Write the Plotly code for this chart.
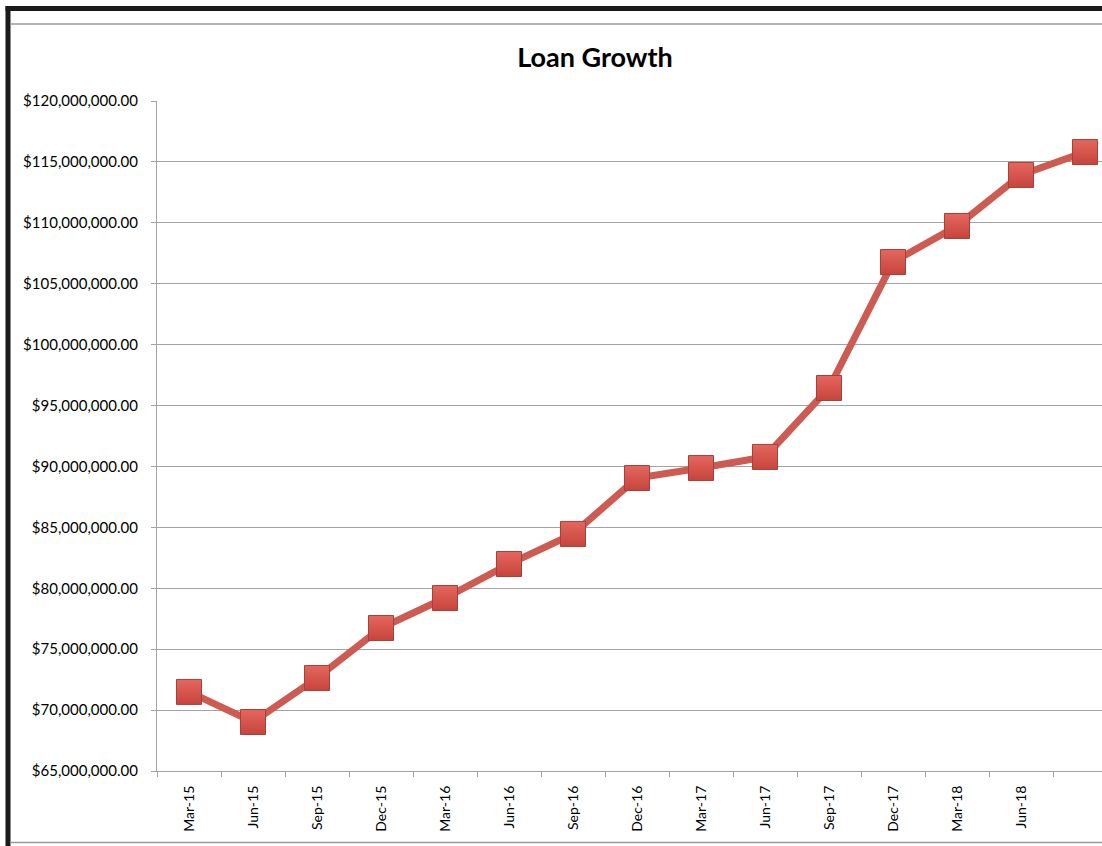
import plotly.graph_objects as go

# ---- data ----
quarters = ["Mar-15", "Jun-15", "Sep-15", "Dec-15", "Mar-16", "Jun-16", "Sep-16",
            "Dec-16", "Mar-17", "Jun-17", "Sep-17", "Dec-17", "Mar-18", "Jun-18", "Sep-18"]
loans = [71.49e6, 69.02e6, 72.63e6, 76.74e6, 79.20e6, 81.99e6, 84.46e6,
         89.05e6, 89.87e6, 90.78e6, 96.44e6, 106.78e6, 109.74e6, 113.93e6, 115.81e6]
tick_labels = quarters[:14]          # last quarter shown without a label
y_ticks = [65e6, 70e6, 75e6, 80e6, 85e6, 90e6, 95e6, 100e6, 105e6, 110e6, 115e6, 120e6]

W, H = 1102, 846
L, R, T, B = 157, 0, 101, 75
x_idx = list(range(len(quarters)))
x_hi = (W - L - R) / 64.0 - 0.5

GRID = "#a3a3a3"
FONT = "Lato"

fig = go.Figure()
fig.add_trace(go.Scatter(
    x=x_idx, y=loans, mode="lines+markers",
    line=dict(color="#cd5b51", width=7),
    marker=dict(symbol="square", size=25, color="#e4675e",
                gradient=dict(type="vertical", color="#c7443c"),
                line=dict(color="#a5413a", width=1)),
    cliponaxis=False, hoverinfo="x+y", showlegend=False,
))

def px_x(p):
    return (p - L) / (W - L - R)

def px_y(p):
    return (H - B - p) / (H - T - B)

shapes = [
    # thick black frame (left & top)
    dict(type="line", xref="paper", yref="paper", x0=px_x(5.5), x1=px_x(W + 5), y0=px_y(8.5), y1=px_y(8.5),
         line=dict(color="#1a1a1a", width=5)),
    dict(type="line", xref="paper", yref="paper", x0=px_x(8), x1=px_x(8), y0=px_y(6), y1=px_y(H + 5),
         line=dict(color="#1a1a1a", width=5)),
    # thin gray chart border
    dict(type="line", xref="paper", yref="paper", x0=px_x(10.5), x1=px_x(W + 5), y0=px_y(24), y1=px_y(24),
         line=dict(color="#9a9a9a", width=1.5)),
    dict(type="line", xref="paper", yref="paper", x0=px_x(10.5), x1=px_x(W + 5), y0=px_y(842.5), y1=px_y(842.5),
         line=dict(color="#9a9a9a", width=1.5)),
]

fig.update_layout(
    width=W, height=H,
    margin=dict(l=L, r=R, t=T, b=B),
    paper_bgcolor="white", plot_bgcolor="white",
    title=dict(text="<b>Loan Growth</b>", x=595 / W, xanchor="center",
               y=1 - 58 / H, yanchor="middle",
               font=dict(family=FONT, size=27, color="black")),
    font=dict(family=FONT, color="black"),
    shapes=shapes,
    xaxis=dict(
        range=[-0.5, x_hi], tickmode="array", tickvals=x_idx[:14], ticktext=tick_labels,
        tickangle=-90, ticks="", showgrid=False, zeroline=False,
        showline=True, linecolor=GRID, linewidth=1.3,
        tickfont=dict(family=FONT, size=14, color="black"),
        ticklabelstandoff=8,
        minor=dict(tickmode="array", tickvals=[i + 0.5 for i in range(-1, 15)],
                   ticks="outside", ticklen=5, tickcolor=GRID, tickwidth=1.3, showgrid=False),
    ),
    yaxis=dict(
        range=[65e6, 120e6], tickmode="array", tickvals=y_ticks, tickformat="$,.2f",
        ticks="outside", ticklen=5, tickcolor=GRID, tickwidth=1.3,
        showgrid=True, gridcolor=GRID, gridwidth=1.3, zeroline=False,
        showline=True, linecolor=GRID, linewidth=1.3,
        tickfont=dict(family=FONT, size=15, color="black"),
        ticklabelstandoff=10,
    ),
)

fig.write_html("out.html", config={"displayModeBar": False},
               post_script="document.body.style.margin='0';")
